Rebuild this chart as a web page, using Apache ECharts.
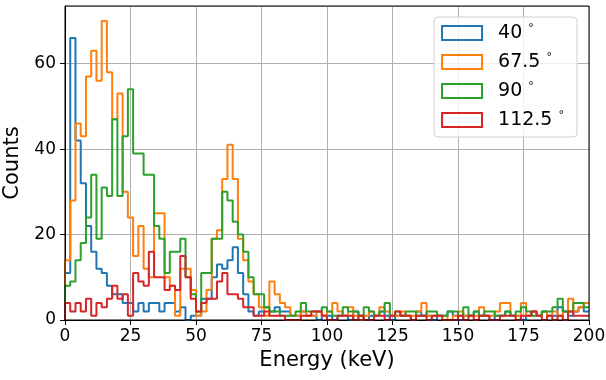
<!DOCTYPE html>
<html>
<head>
<meta charset="utf-8">
<script src="https://cdn.jsdelivr.net/npm/echarts@6/dist/echarts.min.js"></script>
<style>
  html, body { margin: 0; padding: 0; background: #fff; }
  #chart { width: 606px; height: 380px; }
</style>
</head>
<body>
<div id="chart"></div>
<script>
// histogram bin width in keV, bins start at 0
const binWidth = 2

const seriesNames = ['40', '67.5', '90', '112.5']
const colors = ['#1f77b4', '#ff7f0e', '#2ca02c', '#d62728']

// counts per 2 keV bin
const counts40 = [
  11, 66, 42, 32, 22, 16, 12, 11, 8, 6,
  6, 4, 4, 2, 4, 2, 4, 4, 2, 4,
  4, 2, 3, 0, 1, 1, 5, 5, 10, 13,
  12, 14, 17, 11, 6, 2, 1, 2, 3, 2,
  3, 2, 2, 1, 1, 2, 1, 1, 0, 1,
  1, 0, 1, 1, 0, 2, 1, 0, 1, 1,
  2, 1, 0, 1, 1, 1, 0, 2, 1, 1,
  0, 1, 1, 2, 1, 0, 1, 1, 2, 1,
  1, 0, 1, 1, 2, 1, 1, 0, 1, 2,
  1, 2, 1, 1, 3, 2, 1, 2, 3, 2
]
const counts675 = [
  14, 28, 46, 43, 57, 63, 56, 70, 58, 47,
  53, 30, 24, 15, 22, 12, 10, 25, 25, 10,
  8, 1, 12, 12, 7, 1, 2, 7, 19, 21,
  33, 41, 33, 19, 14, 9, 6, 3, 1, 9,
  6, 4, 3, 1, 1, 2, 1, 1, 2, 1,
  2, 4, 2, 1, 3, 1, 0, 1, 2, 1,
  3, 2, 1, 1, 2, 1, 1, 2, 4, 1,
  1, 1, 1, 0, 1, 2, 1, 1, 1, 3,
  1, 1, 2, 4, 4, 1, 1, 4, 1, 2,
  1, 2, 1, 2, 1, 2, 5, 2, 3, 4
]
const counts90 = [
  8, 9, 14, 18, 24, 34, 19, 31, 29, 47,
  29, 43, 54, 39, 39, 34, 34, 22, 19, 11,
  16, 16, 19, 10, 6, 2, 11, 11, 19, 19,
  30, 28, 23, 20, 16, 10, 6, 6, 3, 2,
  2, 1, 1, 1, 2, 4, 2, 2, 2, 3,
  2, 1, 1, 3, 2, 2, 1, 3, 2, 1,
  2, 4, 1, 2, 1, 2, 2, 1, 1, 2,
  2, 1, 1, 2, 2, 1, 3, 1, 2, 1,
  2, 2, 1, 1, 2, 1, 2, 3, 2, 1,
  1, 2, 2, 3, 5, 2, 2, 4, 4, 3
]
const counts1125 = [
  4, 2, 4, 2, 5, 1, 4, 3, 5, 8,
  5, 6, 1, 11, 9, 8, 16, 10, 10, 7,
  8, 7, 15, 10, 5, 2, 4, 5, 5, 9,
  11, 6, 6, 5, 3, 3, 1, 1, 2, 1,
  1, 1, 0, 0, 0, 1, 1, 2, 2, 1,
  0, 0, 1, 1, 1, 0, 1, 0, 0, 1,
  1, 0, 1, 2, 1, 1, 0, 1, 1, 0,
  1, 1, 0, 0, 0, 1, 0, 1, 0, 1,
  1, 0, 0, 1, 1, 1, 0, 1, 1, 2,
  1, 0, 1, 0, 1, 0, 2, 1, 1, 1
]

const xTicks = { min: 0, max: 200, interval: 25 }
const yTicks = { min: 0, max: 73.5, interval: 20 }

// turn bin counts into step outline points (like histtype='step')
function toSteps(counts) {
  const pts = [[0, 0]]
  counts.forEach((c, i) => pts.push([i * binWidth, c]))
  pts.push([counts.length * binWidth, counts[counts.length - 1]])
  return pts
}

const allCounts = [counts40, counts675, counts90, counts1125]
const font = 'DejaVu Sans'

const chart = echarts.init(document.getElementById('chart'), null, { renderer: 'canvas' })

chart.setOption({
  animation: false,
  textStyle: { fontFamily: font },
  grid: { left: 65, right: 17, top: 6, bottom: 60, containLabel: false, outerBoundsMode: 'none' },
  legend: {
    right: 29,
    top: 17,
    orient: 'vertical',
    itemWidth: 40,
    itemHeight: 14,
    itemGap: 9,
    padding: [6, 13, 7, 7],
    backgroundColor: 'rgba(255,255,255,0.8)',
    borderColor: '#d0d0d0',
    borderWidth: 1,
    borderRadius: 4,
    textStyle: {
      fontFamily: font,
      fontSize: 19,
      lineHeight: 20,
      color: '#000',
      rich: {
        n: { fontSize: 19, fontFamily: font, padding: [0, 0, 0, 11] },
        d: { fontSize: 11, fontFamily: font, padding: [0, 0, 9, 0] }
      }
    },
    formatter: name => '{n|' + name + '} {d|°}',
    data: seriesNames.map((n, i) => ({
      name: n,
      icon: 'rect',
      itemStyle: { color: 'transparent', borderColor: colors[i], borderWidth: 2 }
    }))
  },
  xAxis: {
    type: 'value',
    min: xTicks.min,
    max: xTicks.max,
    interval: xTicks.interval,
    name: 'Energy (keV)',
    nameLocation: 'middle',
    nameGap: 30,
    nameTextStyle: { fontFamily: font, fontSize: 21, color: '#000' },
    axisLine: { onZero: false, lineStyle: { color: '#000', width: 1 } },
    axisTick: { show: true, length: 5, lineStyle: { color: '#000' } },
    axisLabel: { fontFamily: font, fontSize: 17, color: '#000', margin: 8 },
    splitLine: { show: true, lineStyle: { color: '#b0b0b0', width: 1 } }
  },
  yAxis: {
    type: 'value',
    min: yTicks.min,
    max: yTicks.max,
    interval: yTicks.interval,
    name: 'Counts',
    nameLocation: 'middle',
    nameGap: 36,
    nameTextStyle: { fontFamily: font, fontSize: 21, color: '#000' },
    axisLine: { show: true, lineStyle: { color: '#000', width: 1 } },
    axisTick: { show: true, length: 5, lineStyle: { color: '#000' } },
    axisLabel: { fontFamily: font, fontSize: 17, color: '#000', margin: 9, showMaxLabel: false },
    splitLine: { show: true, lineStyle: { color: '#b0b0b0', width: 1 } }
  },
  series: allCounts.map((c, i) => ({
    name: seriesNames[i],
    type: 'line',
    step: 'end',
    data: toSteps(c),
    showSymbol: false,
    clip: true,
    lineStyle: { color: colors[i], width: 2 },
    itemStyle: { color: colors[i] }
  })),
  graphic: [{
    type: 'rect',
    shape: { x: 65, y: 6, width: 524, height: 314 },
    style: { fill: 'none', stroke: '#000', lineWidth: 1 },
    silent: true,
    z: 10
  }]
})
</script>
</body>
</html>
